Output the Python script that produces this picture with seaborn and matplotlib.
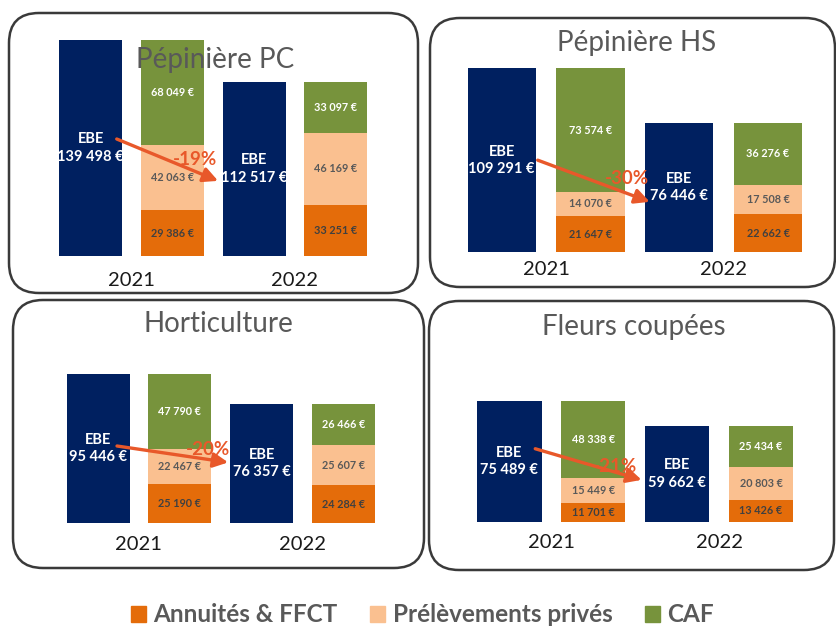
import numpy as np
import pandas as pd
import matplotlib
matplotlib.use("Agg")
import matplotlib.pyplot as plt
from matplotlib.patches import FancyBboxPatch, Patch
import seaborn as sns

# Values
panels = ["Pépinière PC", "Pépinière HS", "Horticulture", "Fleurs coupées"]
years = ["2021", "2022"]
ebe = [[139498, 112517], [109291, 76446], [95446, 76357], [75489, 59662]]
annuites = [[29386, 33251], [21647, 22662], [25190, 24284], [11701, 13426]]
prelevements = [[42063, 46169], [14070, 17508], [22467, 25607], [15449, 20803]]
caf = [[68049, 33097], [73574, 36276], [47790, 26466], [48338, 25434]]
variations = ["-19%", "-30%", "-20%", "-21%"]
legend_labels = ["Annuités & FFCT", "Prélèvements privés", "CAF"]

NAVY = "#002060"
ORANGE = "#E46C0A"
PEACH = "#FAC090"
GREEN = "#77933C"
ARROW = "#E8582A"
GREY = "#595959"

W, H = 836, 626

# layout in pixels: bar area (left, right, top, bottom), rounded box, title centre,
# gap under bars for the years, arrow offsets (start from EBE 2021, end from EBE 2022),
# position of the percentage along the arrow and its lift
layout = [
    dict(area=(49.9, 376.6, 40, 256), box=(9, 13, 418, 293), title=(215, 60),
         year_gap=25, arrow=((26, -9), (-36, 12)), pct=(0.77, 12)),
    dict(area=(457.3, 812.4, 68, 252.3), box=(430, 18, 835, 287), title=(637, 43),
         year_gap=17, arrow=((36, 0), (-29.5, 14)), pct=(0.80, 15)),
    dict(area=(57.1, 384.4, 374, 523), box=(13, 300, 424, 568), title=(218, 324),
         year_gap=22, arrow=((19, -2.5), (-33.5, -1)), pct=(0.82, 10)),
    dict(area=(467.3, 803.0, 401, 521.5), box=(429, 301, 834, 570), title=(634, 327),
         year_gap=21, arrow=((26, -12.5), (-35.5, 6)), pct=(0.75, 6)),
]

sns.set_style("white")
plt.rcParams["font.family"] = ["Lato", "DejaVu Sans"]


def fmt(v):
    return f"{v:,}".replace(",", " ") + " €"


order = ["EBE 2021", "Répartition 2021", "EBE 2022", "Répartition 2022"]

fig = plt.figure(figsize=(W / 100, H / 100), dpi=100)

for i, name in enumerate(panels):
    L = layout[i]
    x0, x1, top, bot = L["area"]
    ax = fig.add_axes([x0 / W, 1 - bot / H, (x1 - x0) / W, (bot - top) / H])

    df = pd.DataFrame({
        "barre": [f"EBE {y}" for y in years] + [f"Répartition {y}" for y in years],
        "ebe": ebe[i] + [np.nan, np.nan],
        "annuites": [np.nan, np.nan] + annuites[i],
        "prelevements": [np.nan, np.nan] + prelevements[i],
        "caf": [np.nan, np.nan] + caf[i],
    })
    df["haut_prel"] = df["annuites"] + df["prelevements"]
    df["haut_caf"] = df["haut_prel"] + df["caf"]

    common = dict(data=df, x="barre", order=order, width=0.77, saturation=1,
                  linewidth=0, errorbar=None, ax=ax)
    sns.barplot(y="ebe", color=NAVY, **common)
    sns.barplot(y="haut_caf", color=GREEN, **common)
    sns.barplot(y="haut_prel", color=PEACH, **common)
    sns.barplot(y="annuites", color=ORANGE, **common)

    ymax = max(ebe[i])
    ax.set_xlim(-0.5, 3.5)
    ax.set_ylim(0, ymax)
    ax.axis("off")
    k = (bot - top) / ymax          # pixels per euro
    step = (x1 - x0) / 4            # pixels per category

    for j, y in enumerate(years):
        xe, xr = 2 * j, 2 * j + 1
        ax.text(xe, ebe[i][j] / 2, f"EBE\n{fmt(ebe[i][j])}", ha="center", va="center",
                color="white", fontsize=10.5, fontweight="bold", linespacing=1.3)
        a, p, c = annuites[i][j], prelevements[i][j], caf[i][j]
        ax.text(xr, a / 2, fmt(a), ha="center", va="center", color="#404040",
                fontsize=7.8, fontweight="bold")
        ax.text(xr, a + p / 2, fmt(p), ha="center", va="center", color=GREY,
                fontsize=7.8, fontweight="bold")
        ax.text(xr, a + p + c / 2, fmt(c), ha="center", va="center", color="white",
                fontsize=7.8, fontweight="bold")
        ax.text(2 * j + 0.5, -L["year_gap"] / k, y, ha="center", va="center",
                color="#1a1a1a", fontsize=14.5)

    (sdx, sdy), (edx, edy) = L["arrow"]
    start = np.array([0 + sdx / step, ebe[i][0] / 2 - sdy / k])
    end = np.array([2 + edx / step, ebe[i][1] / 2 - edy / k])
    ax.annotate("", xy=end, xytext=start,
                arrowprops=dict(arrowstyle="-|>", color=ARROW, lw=2.4,
                                mutation_scale=22, shrinkA=0, shrinkB=0))
    t, lift = L["pct"]
    lab = start + t * (end - start)
    ax.text(lab[0], lab[1] + lift / k, variations[i], ha="center", va="center",
            color=ARROW, fontsize=13.5, fontweight="bold")

# overlay for the rounded frames and the titles
ov = fig.add_axes([0, 0, 1, 1], zorder=10)
ov.set_xlim(0, W)
ov.set_ylim(H, 0)
ov.axis("off")
ov.patch.set_visible(False)
for i, name in enumerate(panels):
    bx0, by0, bx1, by1 = layout[i]["box"]
    ov.add_patch(FancyBboxPatch((bx0, by0), bx1 - bx0, by1 - by0,
                                boxstyle="round,pad=0,rounding_size=30",
                                fill=False, ec="#3a3a3a", lw=1.8))
    tx, ty = layout[i]["title"]
    ov.text(tx, ty, name, ha="center", va="center", fontsize=20, color=GREY)

handles = [Patch(color=c) for c in (ORANGE, PEACH, GREEN)]
fig.legend(handles, legend_labels, loc="center", bbox_to_anchor=(422.5 / W, 1 - 615 / H),
           ncol=3, frameon=False, prop=dict(weight="bold", size=17.5), labelcolor=GREY,
           handlelength=0.62, handleheight=0.6, handletextpad=0.3, columnspacing=1.35)

fig.savefig("out.png", dpi=100)
